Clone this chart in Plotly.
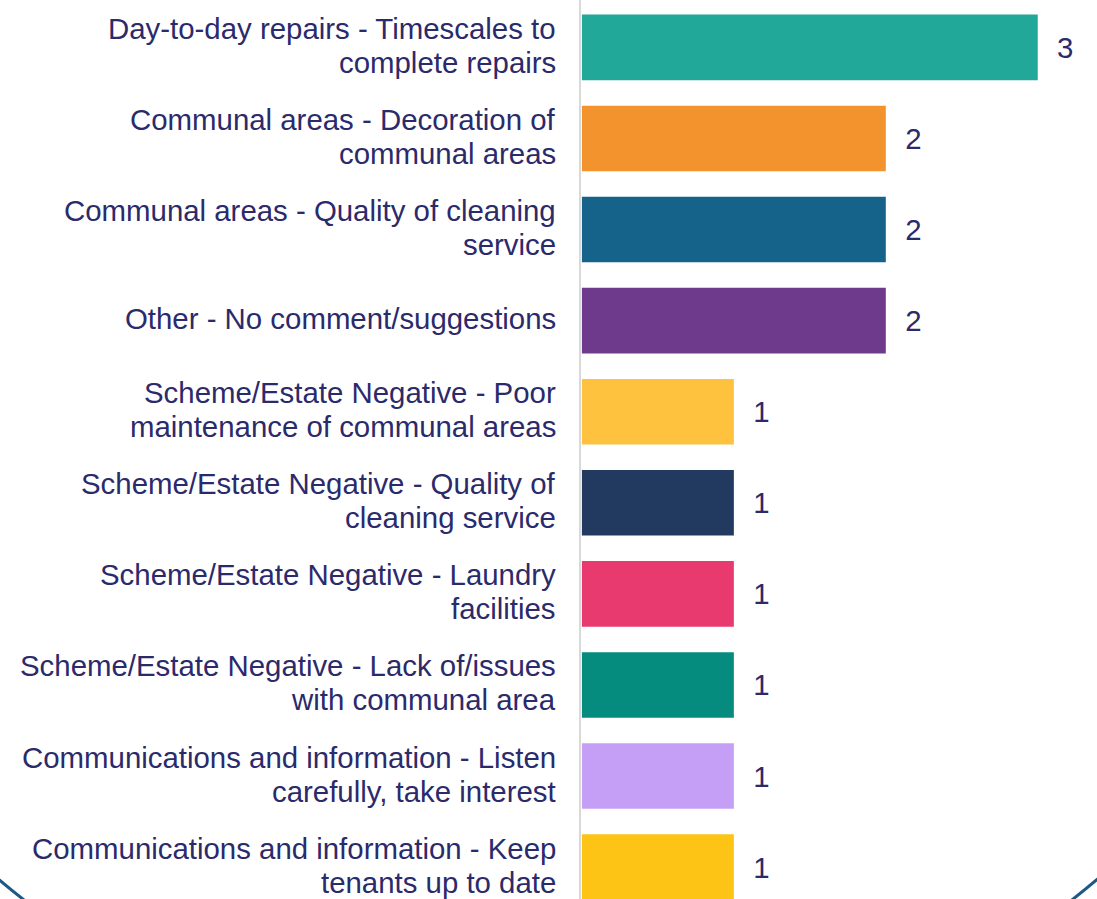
import plotly.graph_objects as go

categories = [
    "Day-to-day repairs - Timescales to<br>complete repairs",
    "Communal areas - Decoration of<br>communal areas",
    "Communal areas - Quality of cleaning<br>service",
    "Other - No comment/suggestions",
    "Scheme/Estate Negative - Poor<br>maintenance of communal areas",
    "Scheme/Estate Negative - Quality of<br>cleaning service",
    "Scheme/Estate Negative - Laundry<br>facilities",
    "Scheme/Estate Negative - Lack of/issues<br>with communal area",
    "Communications and information - Listen<br>carefully, take interest",
    "Communications and information - Keep<br>tenants up to date",
]
values = [3, 2, 2, 2, 1, 1, 1, 1, 1, 1]
colors = ["#22A899", "#F2932E", "#15628A", "#6E3A8B", "#FEC23F",
          "#223A60", "#E93A70", "#068C7E", "#C59FF5", "#FDC315"]

TEXT = "#2b2a6b"
FONT = "Liberation Sans, Arial, sans-serif"
FS = 29.4
LINE_GAP = 34  # px between the two lines of a category label

fig = go.Figure()
fig.add_trace(go.Bar(
    x=values, y=categories, orientation="h",
    marker=dict(color=colors, line=dict(width=0)),
    text=[f"\u00a0\u00a0{v}" for v in values],
    textposition="outside", cliponaxis=False,
    textfont=dict(family=FONT, size=FS, color=TEXT),
    width=0.72,
))

# category labels, drawn line by line for tighter line spacing
for cat in categories:
    lines = cat.split("<br>")
    n = len(lines)
    for i, ln in enumerate(lines):
        shift = ((n - 1) / 2 - i) * LINE_GAP + 2
        fig.add_annotation(
            x=0, xref="paper", y=cat, yref="y",
            text=ln, showarrow=False, xanchor="right", yanchor="middle",
            xshift=-23, yshift=shift,
            font=dict(family=FONT, size=FS, color=TEXT),
        )

# decorative ellipse outline from the slide background
fig.add_shape(type="circle", xref="paper", yref="paper",
              x0=-1.715, x1=1.587, y0=-0.2013, y1=1.694,
              line=dict(color="#1b5a84", width=3), layer="below")

fig.update_layout(
    width=1097, height=899,
    margin=dict(l=581, r=0, t=0, b=0, autoexpand=False),
    paper_bgcolor="white", plot_bgcolor="rgba(0,0,0,0)",
    showlegend=False,
    font=dict(family=FONT, size=FS, color=TEXT),
    xaxis=dict(range=[-0.006, 3.39], visible=False, showgrid=False,
               zeroline=False, automargin=False),
    yaxis=dict(type="category", range=[9.35, -0.52], showgrid=False,
               automargin=False, showticklabels=False,
               showline=True, linecolor="#d9d9d9", linewidth=2, ticks=""),
)

fig.write_html("out.html")
